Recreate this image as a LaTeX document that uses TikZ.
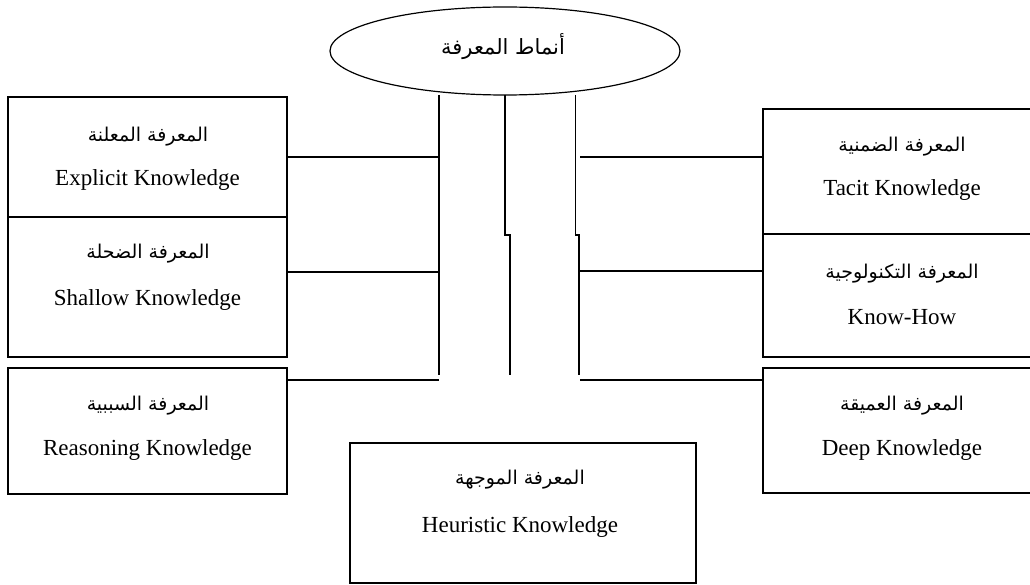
\documentclass[tikz,border=0pt]{standalone}
\usepackage{fontspec}
\setmainfont{Liberation Serif}
\newfontfamily\arabicfont[Script=Arabic]{DejaVu Sans}
\TeXXeTstate=1
\usetikzlibrary{shapes.geometric}

\tikzset{
  kbox/.style={draw, line width=1.5pt, rectangle, inner sep=0pt},
  artext/.style={inner sep=0pt, font=\arabicfont\fontsize{19}{22}\selectfont},
  entext/.style={inner sep=0pt, font=\fontsize{23}{27}\selectfont},
  link/.style={line width=1.3pt}
}

\begin{document}
\begin{tikzpicture}[x=1pt,y=-1pt]
\clip (0,0) rectangle (1030,585);
\fill[white] (0,0) rectangle (1030,585);

% central ellipse
\node[draw, ellipse, line width=1.2pt, minimum width=350pt, minimum height=88pt, inner sep=0pt] (core) at (505,51) {};
\node[artext, font=\arabicfont\fontsize{21}{24}\selectfont] (coretxt) at (503,47) {\beginR أنماط المعرفة\endR};

% left column
\node[kbox, minimum width=279pt, minimum height=120pt] (expl) at (147.5,157) {};
\node[kbox, minimum width=279pt, minimum height=140pt] (shal) at (147.5,287) {};
\node[kbox, minimum width=279pt, minimum height=126pt] (reas) at (147.5,431) {};

% right column (runs off the right margin)
\node[kbox, minimum width=277pt, minimum height=125pt] (taci) at (901.5,171.5) {};
\node[kbox, minimum width=277pt, minimum height=123pt] (know) at (901.5,295.5) {};
\node[kbox, minimum width=277pt, minimum height=125pt] (deep) at (901.5,430.5) {};

% bottom box
\node[kbox, minimum width=346pt, minimum height=140pt] (heur) at (523,513) {};

% labels
\node[artext] (explA) at (148,137) {\beginR المعرفة المعلنة\endR};
\node[entext] (explE) at (147.5,180) {Explicit Knowledge};
\node[artext] (shalA) at (148,254) {\beginR المعرفة الضحلة\endR};
\node[entext] (shalE) at (147.5,300) {Shallow Knowledge};
\node[artext] (reasA) at (148,406) {\beginR المعرفة السببية\endR};
\node[entext] (reasE) at (147.5,450) {Reasoning Knowledge};

\node[artext] (taciA) at (902,147) {\beginR المعرفة الضمنية\endR};
\node[entext] (taciE) at (902,190) {Tacit Knowledge};
\node[artext] (knowA) at (902,274) {\beginR المعرفة التكنولوجية\endR};
\node[entext] (knowE) at (902,317) {Know-How};
\node[artext] (deepA) at (902,406) {\beginR المعرفة العميقة\endR};
\node[entext] (deepE) at (902,450) {Deep Knowledge};

\node[artext] (heurA) at (520,480) {\beginR المعرفة الموجهة\endR};
\node[entext] (heurE) at (520,527) {Heuristic Knowledge};

% spine coordinates
\coordinate (sL1) at (439,95);
\coordinate (sL2) at (439,375);
\coordinate (sM1) at (505,95);
\coordinate (sM2) at (505,235);
\coordinate (sM3) at (510,235);
\coordinate (sM4) at (510,375);
\coordinate (sR1) at (575.5,95);
\coordinate (sR2) at (575.5,235);
\coordinate (sR3) at (579,235);
\coordinate (sR4) at (579,375);

% three trunks under the ellipse
\draw[link] (sL1) -- (sL2);
\draw[link] (sM1) -- (sM2) -- (sM3) -- (sM4);
\draw[link] (sR1) -- (sR2) -- (sR3) -- (sR4);

% branch ends on the trunks
\coordinate (jL1) at (440,157);
\coordinate (jL2) at (440,272);
\coordinate (jL3) at (439,380);
\coordinate (jR1) at (580,157);
\coordinate (jR2) at (580,271);
\coordinate (jR3) at (580,380);

% branches to the boxes
\draw[link] (expl.east |- jL1) -- (jL1);
\draw[link] (shal.east |- jL2) -- (jL2);
\draw[link] (reas.east |- jL3) -- (jL3);
\draw[link] (jR1) -- (taci.west |- jR1);
\draw[link] (jR2) -- (know.west |- jR2);
\draw[link] (jR3) -- (deep.west |- jR3);
\end{tikzpicture}
\end{document}
